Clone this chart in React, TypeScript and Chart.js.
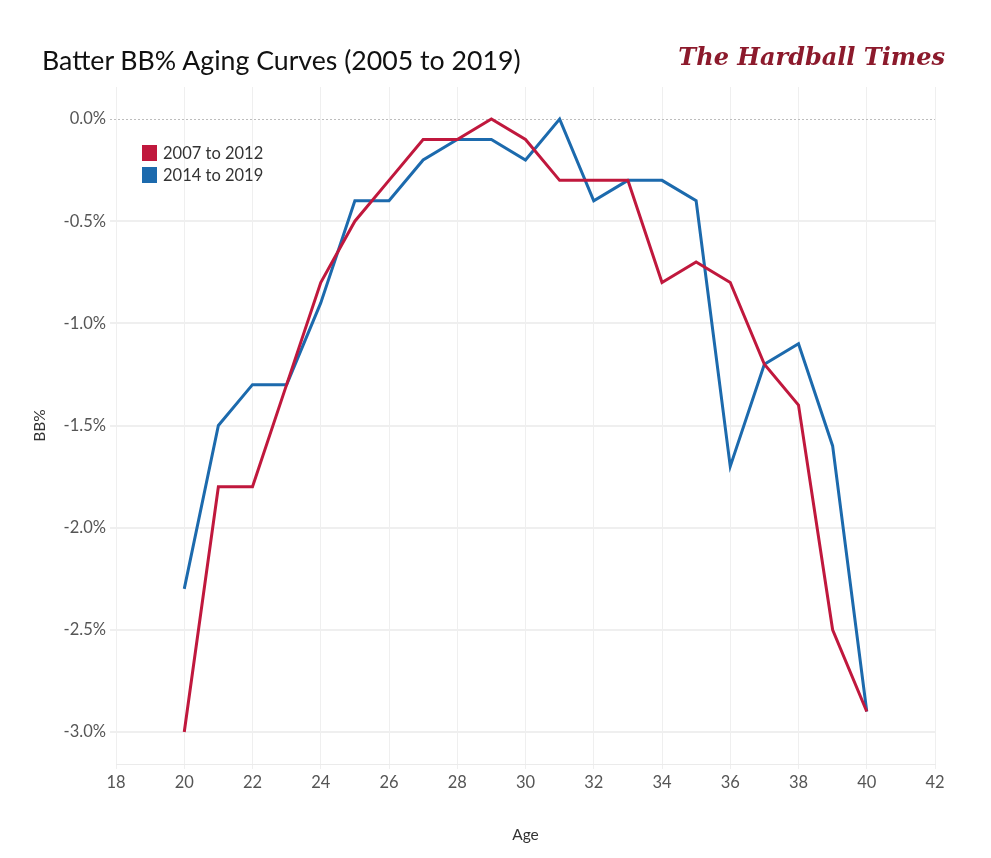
import React, { useEffect, useRef } from "react";
import { Chart, registerables } from "chart.js";

Chart.register(...registerables);

// ---- data ----
const ages = [20, 21, 22, 23, 24, 25, 26, 27, 28, 29, 30, 31, 32, 33, 34, 35, 36, 37, 38, 39, 40];
const bb2007to2012 = [-3.0, -1.8, -1.8, -1.3, -0.8, -0.5, -0.3, -0.1, -0.1, 0.0, -0.1, -0.3, -0.3, -0.3, -0.8, -0.7, -0.8, -1.2, -1.4, -2.5, -2.9];
const bb2014to2019 = [-2.3, -1.5, -1.3, -1.3, -0.9, -0.4, -0.4, -0.2, -0.1, -0.1, -0.2, 0.0, -0.4, -0.3, -0.3, -0.4, -1.7, -1.2, -1.1, -1.6, -2.9];
const xTicks = [18, 20, 22, 24, 26, 28, 30, 32, 34, 36, 38, 40, 42];
const yTicks = [0, -0.5, -1.0, -1.5, -2.0, -2.5, -3.0];
const seriesLabels = ["2007 to 2012", "2014 to 2019"];
const seriesColors = ["#c0183d", "#1c6aad"];

const FONT = "Lato, 'Open Sans', sans-serif";

const zeroLinePlugin = {
  id: "zeroLine",
  beforeDatasetsDraw(chart: any) {
    const y = chart.scales.y;
    const area = chart.chartArea;
    const py = y.getPixelForValue(0);
    const ctx = chart.ctx;
    ctx.save();
    ctx.strokeStyle = "#bdbdbd";
    ctx.lineWidth = 1;
    ctx.setLineDash([2, 2]);
    ctx.beginPath();
    ctx.moveTo(area.left - 6, Math.round(py) + 0.5);
    ctx.lineTo(area.right, Math.round(py) + 0.5);
    ctx.stroke();
    ctx.restore();
  },
};

export default function App() {
  const ref = useRef<HTMLCanvasElement | null>(null);

  useEffect(() => {
    document.body.style.margin = "0";
    if (!ref.current) return;
    const toPts = (vals: number[]) => ages.map((a, i) => ({ x: a, y: vals[i] }));
    const chart = new Chart(ref.current, {
      type: "line",
      data: {
        datasets: [
          {
            label: seriesLabels[0],
            data: toPts(bb2007to2012),
            borderColor: seriesColors[0],
            backgroundColor: seriesColors[0],
            borderWidth: 3,
            pointRadius: 0,
            tension: 0,
          },
          {
            label: seriesLabels[1],
            data: toPts(bb2014to2019),
            borderColor: seriesColors[1],
            backgroundColor: seriesColors[1],
            borderWidth: 3,
            pointRadius: 0,
            tension: 0,
          },
        ],
      },
      options: {
        animation: false,
        responsive: true,
        maintainAspectRatio: false,
        layout: { padding: { top: 87, right: 56, left: 0, bottom: 0 } },
        plugins: {
          legend: { display: false },
          tooltip: { enabled: false },
          title: { display: false },
        },
        scales: {
          x: {
            type: "linear",
            min: 18,
            max: 42,
            afterBuildTicks: (s: any) => {
              s.ticks = xTicks.map((v) => ({ value: v }));
            },
            afterFit: (s: any) => {
              s.height = 94;
            },
            ticks: {
              font: { family: FONT, size: 16.5 },
              color: "#555555",
              padding: 4,
              maxRotation: 0,
              callback: (v: any) => String(v),
            },
            grid: {
              color: "#efefef",
              lineWidth: 1,
              tickLength: 5,
              drawTicks: true,
            },
            border: { display: true, color: "#ebebeb", width: 1 },
            title: {
              display: true,
              text: "Age",
              font: { family: FONT, size: 15.5 },
              color: "#333333",
              padding: { top: 0, bottom: 14 },
            },
          },
          y: {
            type: "linear",
            min: -3.157,
            max: 0.157,
            afterBuildTicks: (s: any) => {
              s.ticks = yTicks.map((v) => ({ value: v }));
            },
            afterFit: (s: any) => {
              s.width = 116;
            },
            ticks: {
              font: { family: FONT, size: 16.5 },
              color: "#555555",
              padding: 4,
              callback: (v: any) => Number(v).toFixed(1) + "%",
            },
            grid: {
              color: (c: any) => (c.tick && c.tick.value === 0 ? "rgba(0,0,0,0)" : "#efefef"),
              lineWidth: 2,
              tickLength: 6,
              drawTicks: true,
            },
            border: { display: false },
            title: {
              display: true,
              text: "BB%",
              font: { family: FONT, size: 15.5 },
              color: "#333333",
              padding: { top: 31, bottom: 0 },
            },
          },
        },
      },
      plugins: [zeroLinePlugin],
    });
    return () => chart.destroy();
  }, []);

  return (
    <div style={{ position: "absolute", left: 0, top: 0, width: 991, height: 858, background: "#fff" }}>
      <canvas ref={ref} />
      <div
        style={{
          position: "absolute",
          left: 42,
          top: 45,
          fontFamily: FONT,
          fontSize: 26.7,
          lineHeight: "30px",
          color: "#111",
          whiteSpace: "nowrap",
        }}
      >
        Batter BB% Aging Curves (2005 to 2019)
      </div>
      <div
        style={{
          position: "absolute",
          right: 46,
          top: 42,
          fontFamily: "'DejaVu Serif', 'Liberation Serif', serif",
          fontStyle: "italic",
          fontWeight: "bold",
          fontSize: 24,
          lineHeight: "30px",
          color: "#8c1a2c",
          whiteSpace: "nowrap",
        }}
      >
        The Hardball Times
      </div>
      <div style={{ position: "absolute", left: 142, top: 142, fontFamily: FONT, fontSize: 16.5, color: "#333" }}>
        {seriesLabels.map((l, i) => (
          <div key={l} style={{ display: "flex", alignItems: "center", height: 22 }}>
            <span style={{ width: 15, height: 16, background: seriesColors[i], display: "inline-block", marginRight: 6 }} />
            <span>{l}</span>
          </div>
        ))}
      </div>
    </div>
  );
}
